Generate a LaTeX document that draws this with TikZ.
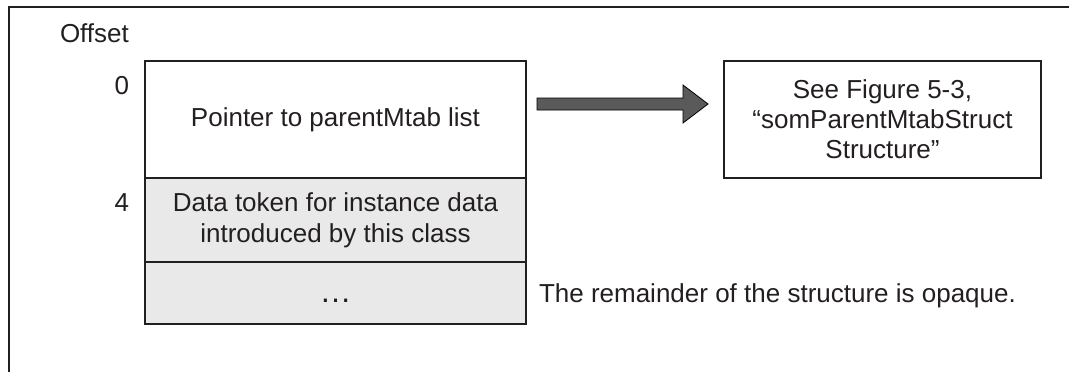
\documentclass[tikz,border=0pt]{standalone}
\usepackage{fontspec}
\setmainfont{Liberation Sans}
\usetikzlibrary{calc}
\definecolor{ink}{HTML}{231F20}
\definecolor{cellgray}{HTML}{E9E9E9}
\definecolor{arrowgray}{HTML}{5A5A5A}
\begin{document}
\begin{tikzpicture}[x=1pt,y=-1pt,
  every node/.style={text=ink, font=\fontsize{26}{31}\selectfont, inner sep=0pt, outer sep=0pt},
  cell/.style={draw=ink, line width=2pt, align=center},
  plain/.style={inner sep=0pt},
  frameline/.style={draw=ink, line width=2pt},
  blockarrow/.style={draw=black, line width=0.8pt, fill=arrowgray, line join=miter}]
  % canvas
  \useasboundingbox (0,0) rectangle (1069,372);

  % open frame: top and left edges
  \coordinate (frameBL) at (9,373);
  \coordinate (frameTL) at (9,7);
  \coordinate (frameTR) at (1070,7);
  \draw[frameline] (frameBL) -- (frameTL) -- (frameTR);

  % structure layout
  \node[cell, fill=white, minimum width=381pt, minimum height=117pt] (ptr) at (335.5,119.5)
    {Pointer to parentMtab list};
  \node[cell, fill=cellgray, minimum width=381pt, minimum height=84pt] (token) at (335.5,220)
    {Data token for instance data\\introduced by this class};
  \node[cell, fill=cellgray, minimum width=381pt, minimum height=62pt] (rest) at (335.5,293) {};
  \node[plain, anchor=base, font=\fontsize{32}{36}\selectfont] (dots) at (335.5,302) {…};

  % offsets
  \node[plain, anchor=base west] (offset) at (60,42) {Offset};
  \node[plain, anchor=base east] (off0) at (129,94) {0};
  \node[plain, anchor=base east] (off4) at (129,211) {4};

  % reference box
  \node[cell, fill=white, minimum width=317pt, minimum height=117pt,
        font=\fontsize{26}{30}\selectfont] (see) at (882.5,119.5)
    {See Figure 5-3,\\“somParentMtabStruct\\Structure”};

  % note on the remaining part
  \node[plain, anchor=base west] (note) at (539,302)
    {The remainder of the structure is opaque.};

  % block arrow pointing to the reference box
  \coordinate (arrtail) at (537,104);
  \coordinate (arrtip) at (708,104);
  \draw[blockarrow]
    ($(arrtail)+(0,-6)$) -- ($(arrtip)+(-25,-6)$) -- ($(arrtip)+(-25,-19)$)
    -- (arrtip) -- ($(arrtip)+(-25,19)$) -- ($(arrtip)+(-25,6)$)
    -- ($(arrtail)+(0,6)$) -- cycle;
\end{tikzpicture}
\end{document}
